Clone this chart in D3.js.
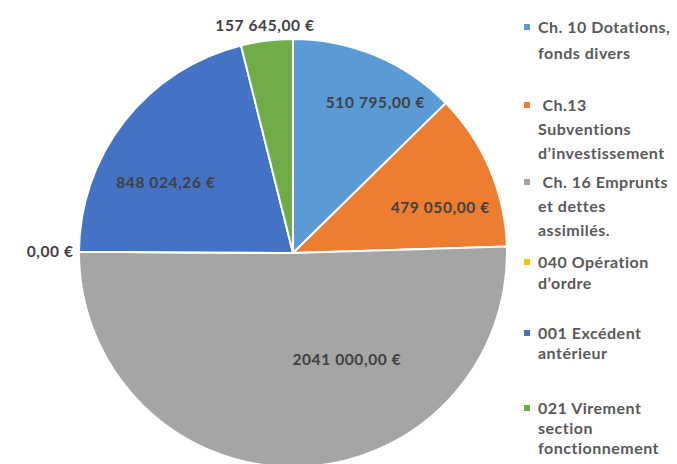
<!DOCTYPE html>
<html>
<head>
<meta charset="utf-8">
<script src="https://cdn.jsdelivr.net/npm/d3@7"></script>
<style>
  body { margin: 0; background: #fff; }
  svg { display: block; font-family: Lato, "Open Sans", sans-serif; }
</style>
</head>
<body>
<svg id="chart" width="677" height="464"></svg>
<script>
// chart data
const categories = [
    'Ch. 10 Dotations, fonds divers',
    'Ch.13 Subventions d\u2019investissement',
    'Ch. 16 Emprunts et dettes assimilés.',
    '040 Opération d\u2019ordre',
    '001 Excédent antérieur',
    '021 Virement section fonctionnement'
];
const values = [510795.00, 479050.00, 2041000.00, 0.00, 848024.26, 157645.00];
const valueLabels = ['510 795,00 €', '479 050,00 €', '2041 000,00 €', '0,00 €', '848 024,26 €', '157 645,00 €'];
const legendLines = [
    ['Ch. 10 Dotations,', 'fonds divers'],
    [' Ch.13', 'Subventions', 'd\u2019investissement'],
    [' Ch. 16 Emprunts', 'et dettes', 'assimilés.'],
    ['040 Opération', 'd\u2019ordre'],
    ['001 Excédent', 'antérieur'],
    ['021 Virement', 'section', 'fonctionnement']
];
const colors = ['#5b9bd5', '#ed7d31', '#a5a5a5', '#ffc000', '#4472c4', '#70ad47'];

let svg = d3.select('#chart');
let cx = 293, cy = 253, radius = 214;

let pie = d3.pie().sort(null).value(d => d)(values);
let arc = d3.arc().innerRadius(0).outerRadius(radius);

let g = svg.append('g').attr('transform', 'translate(' + cx + ',' + cy + ')');

g.selectAll('path.slice')
    .data(pie)
    .enter().append('path')
    .attr('class', 'slice')
    .attr('d', arc)
    .attr('fill', (d, i) => colors[i])
    .attr('stroke', '#fff')
    .attr('stroke-width', 2);

// label placement (best fit, like the spreadsheet): angle shift in degrees and radius factor
let place = [
    { da: 6, rf: 0.80 },
    { da: 6, rf: 0.72 },
    { da: -26, rf: 0.56 },
    { da: 0, rf: 1.135 },
    { da: -9, rf: 0.68 },
    { da: 0, rf: 1.07 }
];

g.selectAll('text.val')
    .data(pie)
    .enter().append('text')
    .attr('class', 'val')
    .attr('transform', function(d, i) {
        let a = (d.startAngle + d.endAngle) / 2 + place[i].da * Math.PI / 180;
        let r = radius * place[i].rf;
        return 'translate(' + (r * Math.sin(a)) + ',' + (-r * Math.cos(a)) + ')';
    })
    .attr('text-anchor', 'middle')
    .attr('dy', '0.35em')
    .attr('font-size', 15.5)
    .attr('letter-spacing', 0.6)
    .attr('font-weight', 'bold')
    .attr('fill', '#404040')
    .text((d, i) => valueLabels[i]);

// legend
let legendTops = [27, 105, 182, 262, 333, 408];
let lineH = [26, 24, 24, 21, 20, 20];
let legend = svg.append('g');
categories.forEach(function(c, i) {
    let item = legend.append('g').attr('transform', 'translate(524,' + legendTops[i] + ')');
    item.append('rect')
        .attr('x', 0).attr('y', -3)
        .attr('width', 6).attr('height', 6)
        .attr('fill', colors[i]);
    legendLines[i].forEach(function(line, k) {
        item.append('text')
            .attr('x', 14)
            .attr('y', k * lineH[i])
            .attr('dy', '0.35em')
            .attr('font-size', 16)
            .attr('letter-spacing', 0.5)
            .attr('font-weight', 'bold')
            .attr('fill', '#595959')
            .attr('xml:space', 'preserve')
            .text(line);
    });
});
</script>
</body>
</html>
